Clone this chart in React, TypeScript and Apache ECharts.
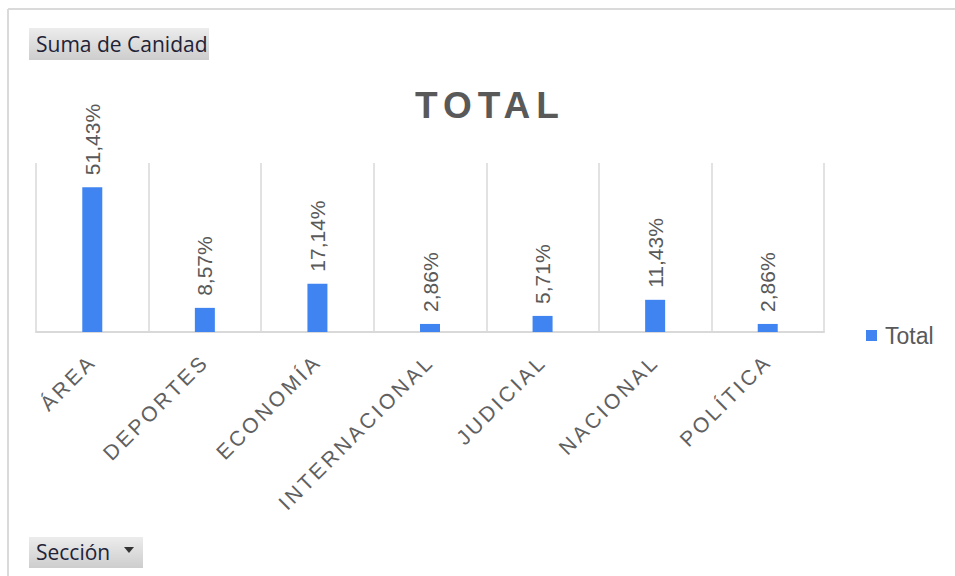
import React, { useEffect, useRef } from "react";
import * as echarts from "echarts";

const categories = ["ÁREA", "DEPORTES", "ECONOMÍA", "INTERNACIONAL", "JUDICIAL", "NACIONAL", "POLÍTICA"];
const totalValues = [51.43, 8.57, 17.14, 2.86, 5.71, 11.43, 2.86];
const seriesName = "Total";
const chartTitle = "TOTAL";
const valueButton = "Suma de Canidad";
const axisButton = "Sección";

const GRAY = "#595959";
const FONT = "Arial, 'Liberation Sans', sans-serif";
const UIFONT = "'Open Sans', 'Noto Sans', sans-serif";

function applySpacing(root: HTMLElement) {
  const texts = root.querySelectorAll("text");
  texts.forEach((t) => {
    const c = t.textContent || "";
    if (categories.indexOf(c) >= 0) {
      (t as SVGTextElement).style.letterSpacing = "3px";
    } else if (c === chartTitle) {
      (t as SVGTextElement).style.letterSpacing = "6px";
    }
  });
}

export default function App() {
  const ref = useRef<HTMLDivElement>(null);
  useEffect(() => {
    if (!ref.current) return;
    const chart = echarts.init(ref.current, undefined, { renderer: "svg" });
    const btnFill = new echarts.graphic.LinearGradient(0, 0, 0, 1, [
      { offset: 0, color: "#ececec" },
      { offset: 1, color: "#cdcdcd" },
    ]);
    chart.setOption({
      animation: false,
      backgroundColor: "#ffffff",
      grid: { left: 36, right: 131, top: 163, bottom: 244, containLabel: false },
      legend: {
        data: [seriesName],
        left: 866,
        top: 324,
        padding: 0,
        icon: "rect",
        itemWidth: 11,
        itemHeight: 11,
        itemGap: 6,
        textStyle: { fontSize: 23, color: GRAY, fontFamily: FONT, padding: [0, 0, 0, 3] },
      },
      xAxis: {
        type: "category",
        data: categories,
        axisLine: { lineStyle: { color: "#d9d9d9", width: 2 } },
        axisTick: { show: false },
        splitLine: { show: true, lineStyle: { color: "#d9d9d9", width: 1.5 } },
        axisLabel: {
          rotate: 45,
          interval: 0,
          margin: 26,
          fontSize: 21,
          color: "#606060",
          fontFamily: FONT,
        },
      },
      yAxis: { type: "value", min: 0, max: 60, show: false, splitLine: { show: false } },
      series: [
        {
          name: seriesName,
          type: "bar",
          data: totalValues,
          barWidth: 20,
          itemStyle: { color: "#3f84f1" },
          label: {
            show: true,
            position: "top",
            rotate: 90,
            align: "left",
            verticalAlign: "middle",
            distance: 12,
            fontSize: 21,
            color: GRAY,
            fontFamily: FONT,
            formatter: (p: any) => p.value.toFixed(2).replace(".", ",") + "%",
          },
        },
      ],
      graphic: [
        { type: "line", shape: { x1: 8, y1: 9, x2: 955, y2: 9 }, style: { stroke: "#dadada", lineWidth: 2 } },
        { type: "line", shape: { x1: 8, y1: 9, x2: 8, y2: 576 }, style: { stroke: "#dadada", lineWidth: 2 } },
        {
          type: "text",
          x: 415,
          y: 105,
          style: { text: chartTitle, font: `bold 37px ${FONT}`, fill: GRAY, align: "left", verticalAlign: "middle" },
        },
        { type: "rect", shape: { x: 29, y: 28, width: 180, height: 32 }, style: { fill: btnFill } },
        {
          type: "text",
          x: 36,
          y: 44,
          style: { text: valueButton, font: `21px ${UIFONT}`, fill: "#222236", align: "left", verticalAlign: "middle" },
        },
        { type: "rect", shape: { x: 29, y: 537, width: 114, height: 31 }, style: { fill: btnFill } },
        {
          type: "text",
          x: 36,
          y: 552,
          style: { text: axisButton, font: `21px ${UIFONT}`, fill: "#222236", align: "left", verticalAlign: "middle" },
        },
        {
          type: "polygon",
          shape: { points: [[124, 547], [134, 547], [129, 553]] },
          style: { fill: "#333333" },
        },
      ],
    });
    const el = ref.current;
    applySpacing(el);
    chart.on("finished", () => applySpacing(el));
    const t = setTimeout(() => applySpacing(el), 50);
    return () => {
      clearTimeout(t);
      chart.dispose();
    };
  }, []);
  return <div ref={ref} style={{ position: "fixed", left: 0, top: 0, width: 955, height: 576 }} />;
}
